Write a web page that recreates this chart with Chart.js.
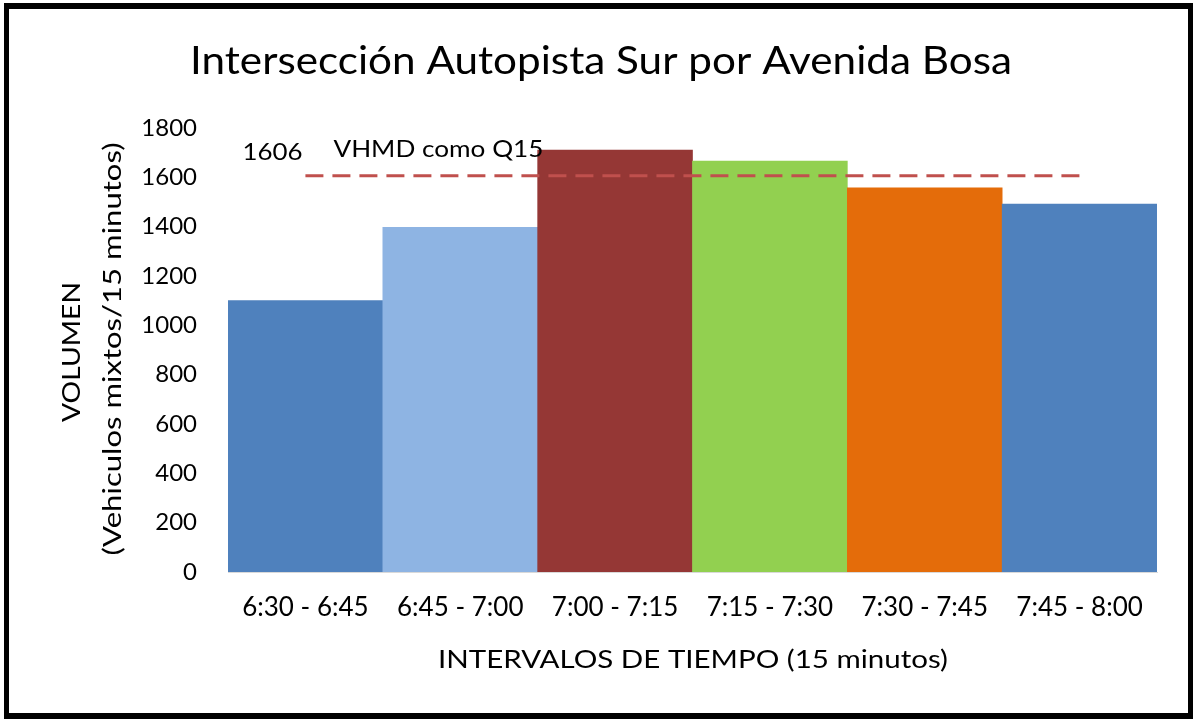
<!DOCTYPE html>
<html>
<head>
<meta charset="utf-8">
<script src="https://cdn.jsdelivr.net/npm/chart.js@4.4.0/dist/chart.umd.min.js"></script>
<style>
html,body{margin:0;padding:0;background:#fff;}
#wrap{position:relative;width:1193px;height:719px;}
</style>
</head>
<body>
<div id="wrap"><canvas id="c" width="1193" height="719"></canvas></div>
<script>
const categories = ["6:30 - 6:45", "6:45 - 7:00", "7:00 - 7:15", "7:15 - 7:30", "7:30 - 7:45", "7:45 - 8:00"];
const volumes = [1100, 1397, 1710, 1666, 1557, 1492];
const barColors = ["#4F81BD", "#8EB4E3", "#953735", "#92D050", "#E46C0A", "#4F81BD"];
const vhmdValue = 1606;
const vhmdLine = [1606, 1606, 1606, 1606, 1606, 1606];
const vhmdLabel = "VHMD como Q15";
const yTicks = [0, 200, 400, 600, 800, 1000, 1200, 1400, 1600, 1800];
const chartTitle = "Intersección Autopista Sur por Avenida Bosa";
const yTitle = ["VOLUMEN", "(Vehiculos mixtos/15 minutos)"];
const xTitle = "INTERVALOS DE TIEMPO (15 minutos)";

const FONT = "Lato, 'Open Sans', sans-serif";

function fitText(ctx, text, x, y, size, width, align) {
  ctx.save();
  ctx.font = size + "px " + FONT;
  const w = ctx.measureText(text).width;
  const sx = width ? width / w : 1;
  ctx.translate(x, y);
  ctx.scale(sx, 1);
  ctx.textAlign = align || "center";
  ctx.textBaseline = "middle";
  ctx.fillText(text, 0, 0);
  ctx.restore();
}

const textPlugin = {
  id: "texts",
  afterDraw(chart) {
    const ctx = chart.ctx;
    ctx.save();
    ctx.fillStyle = "#000";
    fitText(ctx, chartTitle, 601, 62, 38, 822, "center");
    fitText(ctx, xTitle, 693, 660, 25, 510, "center");
    ctx.save();
    ctx.translate(72, 352);
    ctx.rotate(-Math.PI / 2);
    fitText(ctx, yTitle[0], 0, 0, 25, 140, "center");
    ctx.restore();
    ctx.save();
    ctx.translate(113, 349);
    ctx.rotate(-Math.PI / 2);
    fitText(ctx, yTitle[1], 0, 0, 25, 413, "center");
    ctx.restore();
    const meta = chart.getDatasetMeta(1);
    const p0 = meta.data[0];
    const yScale = chart.scales.y;
    const yv = yScale.getPixelForValue(vhmdValue);
    fitText(ctx, String(vhmdValue), p0.x - 33, yv - 23, 23, 60, "center");
    fitText(ctx, vhmdLabel, p0.x + 28, yv - 27, 24, 210, "left");
    ctx.restore();
  },
  afterRender(chart) {
    const ctx = chart.ctx;
    ctx.save();
    ctx.fillStyle = "#000";
    ctx.fillRect(4, 3, 5, 716);
    ctx.fillRect(4, 3, 1189, 6);
    ctx.fillRect(1188, 3, 5, 716);
    ctx.fillRect(4, 713, 1189, 6);
    ctx.restore();
  }
};

new Chart(document.getElementById("c"), {
  data: {
    labels: categories,
    datasets: [
      {
        type: "bar",
        data: volumes,
        backgroundColor: barColors,
        borderWidth: 0,
        barPercentage: 1.0,
        categoryPercentage: 1.0,
        order: 2
      },
      {
        type: "line",
        data: vhmdLine,
        borderColor: "#C0504D",
        borderWidth: 3,
        borderDash: [18, 9],
        pointRadius: 0,
        fill: false,
        order: 1
      }
    ]
  },
  options: {
    responsive: false,
    animation: false,
    events: [],
    layout: { padding: { left: 0, right: 36, top: 128, bottom: 0 } },
    plugins: { legend: { display: false }, tooltip: { enabled: false }, title: { display: false } },
    scales: {
      x: {
        grid: { display: false, drawTicks: false },
        border: { display: true, color: "#D9D9D9", width: 1 },
        ticks: { color: "#000", font: { family: FONT, size: 26 }, padding: 20, maxRotation: 0, autoSkip: false },
        afterFit(scale) { scale.height = 147; }
      },
      y: {
        min: 0,
        max: 1800,
        afterBuildTicks(scale) { scale.ticks = yTicks.map(v => ({ value: v })); },
        grid: { display: false, drawTicks: false },
        border: { display: false },
        ticks: { color: "#000", font: { family: FONT, size: 24 }, padding: 31, callback: (v) => String(v) },
        afterFit(scale) { scale.width = 228; }
      }
    }
  },
  plugins: [textPlugin]
});
</script>
</body>
</html>
